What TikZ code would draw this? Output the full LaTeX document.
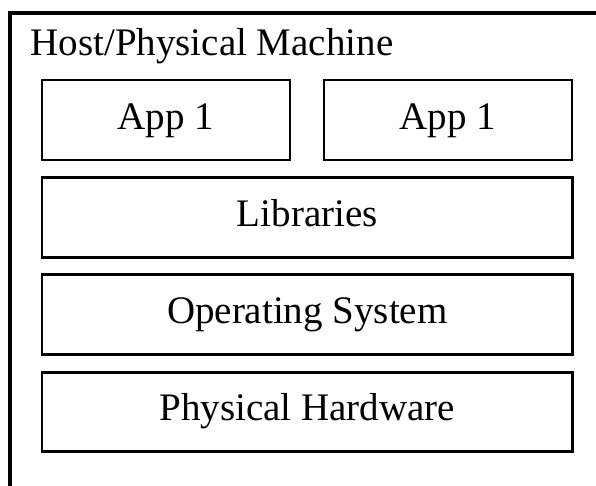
\documentclass[tikz,border=0pt]{standalone}
\usepackage{fontspec}
\setmainfont{Liberation Serif}
\usetikzlibrary{positioning}
\tikzset{
  every node/.append style={font=\fontsize{39}{44}\selectfont},
  layer/.style={draw, line width=2.8pt, minimum height=79.6pt, inner sep=0pt,
    outer sep=0pt, text height=26pt, text depth=8pt},
  appbox/.style={layer, line width=2pt, minimum width=247.6pt},
  frame/.style={draw, line width=4pt, minimum width=640pt, minimum height=520pt,
    inner sep=0pt, outer sep=0pt, anchor=north west}
}

\begin{document}
\begin{tikzpicture}[x=1pt,y=1pt]
\clip (0,0) rectangle (596,-485);

% host machine frame (runs past the page edge)
\node[frame] (host) at (9.5,-13) {};
\node[anchor=base west] (title) at (27,-55) {Host/Physical Machine};

% application row
\node[appbox, anchor=north west] (app1) at (42,-80.2) {App 1};
\node[appbox, right=34.4pt of app1] (app2) {App 1};

% stack below the apps
\node[layer, minimum width=530.6pt, below=17.7pt of app1.south west, anchor=north west] (libs) {Libraries};
\node[layer, minimum width=530.6pt, below=17.7pt of libs] (os) {Operating System};
\node[layer, minimum width=530.6pt, below=17.7pt of os] (hw) {Physical Hardware};

\end{tikzpicture}
\end{document}
